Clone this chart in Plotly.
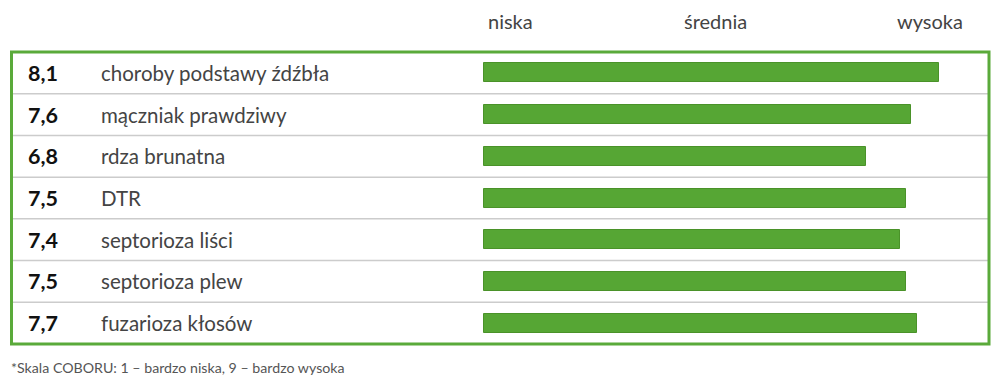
import plotly.graph_objects as go

categories = ["choroby podstawy źdźbła", "mączniak prawdziwy", "rdza brunatna", "DTR",
              "septorioza liści", "septorioza plew", "fuzarioza kłosów"]
values = [8.1, 7.6, 6.8, 7.5, 7.4, 7.5, 7.7]
value_labels = ["8,1", "7,6", "6,8", "7,5", "7,4", "7,5", "7,7"]
scale_labels = ["niska", "średnia", "wysoka"]
footnote = "*Skala COBORU: 1 – bardzo niska, 9 – bardzo wysoka"

W, H = 1000, 388
X0_PX, PX_PER_UNIT = 484.0, 56.2
ROW_TOP, ROW_BOTTOM = 52.0, 344.0
n = len(categories)
ROW_H = (ROW_BOTTOM - ROW_TOP) / n
FIRST_CENTER = ROW_TOP + ROW_H / 2

def px_to_x(px):
    return (px - X0_PX) / PX_PER_UNIT

def py_to_y(py):
    return (py - FIRST_CENTER) / ROW_H

GREEN = "#56a634"
FONT = "Lato"

fig = go.Figure()
fig.add_trace(go.Bar(
    x=values, y=list(range(n)), orientation="h",
    width=19 / ROW_H,
    marker=dict(color=GREEN, line=dict(color="#4a9229", width=1)),
    hoverinfo="skip", showlegend=False,
))

shapes = []
for i in range(1, n):
    shapes.append(dict(type="line", xref="x", yref="y",
                       x0=px_to_x(12), x1=px_to_x(988), y0=i - 0.5, y1=i - 0.5,
                       line=dict(color="#cccccc", width=1.5), layer="below"))
shapes.append(dict(type="rect", xref="x", yref="y",
                   x0=px_to_x(11.5), x1=px_to_x(989), y0=py_to_y(ROW_TOP), y1=py_to_y(ROW_BOTTOM),
                   line=dict(color="#5aaa3a", width=3), fillcolor="rgba(0,0,0,0)"))

annotations = []
for i, (c, v) in enumerate(zip(categories, value_labels)):
    annotations.append(dict(x=px_to_x(26), y=i, xref="x", yref="y", text="<b>%s</b>" % v,
                            showarrow=False, xanchor="left", yanchor="middle",
                            font=dict(family=FONT, size=21.5, color="#111111")))
    annotations.append(dict(x=px_to_x(99), y=i, xref="x", yref="y", text=c,
                            showarrow=False, xanchor="left", yanchor="middle",
                            font=dict(family=FONT, size=20.5, color="#444444")))
for lbl, px in zip(scale_labels, [510, 715, 930]):
    annotations.append(dict(x=px_to_x(px), y=py_to_y(21), xref="x", yref="y", text=lbl,
                            showarrow=False, xanchor="center", yanchor="middle",
                            font=dict(family=FONT, size=20, color="#444444")))
annotations.append(dict(x=px_to_x(9), y=py_to_y(367), xref="x", yref="y", text=footnote,
                        showarrow=False, xanchor="left", yanchor="middle",
                        font=dict(family=FONT, size=14.2, color="#555555")))

fig.update_layout(
    width=W, height=H, margin=dict(l=0, r=0, t=0, b=0),
    paper_bgcolor="white", plot_bgcolor="white",
    xaxis=dict(range=[px_to_x(0), px_to_x(W)], visible=False, fixedrange=True),
    yaxis=dict(range=[py_to_y(H), py_to_y(0)], visible=False, fixedrange=True),
    shapes=shapes, annotations=annotations, bargap=0,
)
fig.write_html("out.html", config={"displayModeBar": False},
               post_script="document.body.style.margin='0';document.body.style.overflow='hidden';")
